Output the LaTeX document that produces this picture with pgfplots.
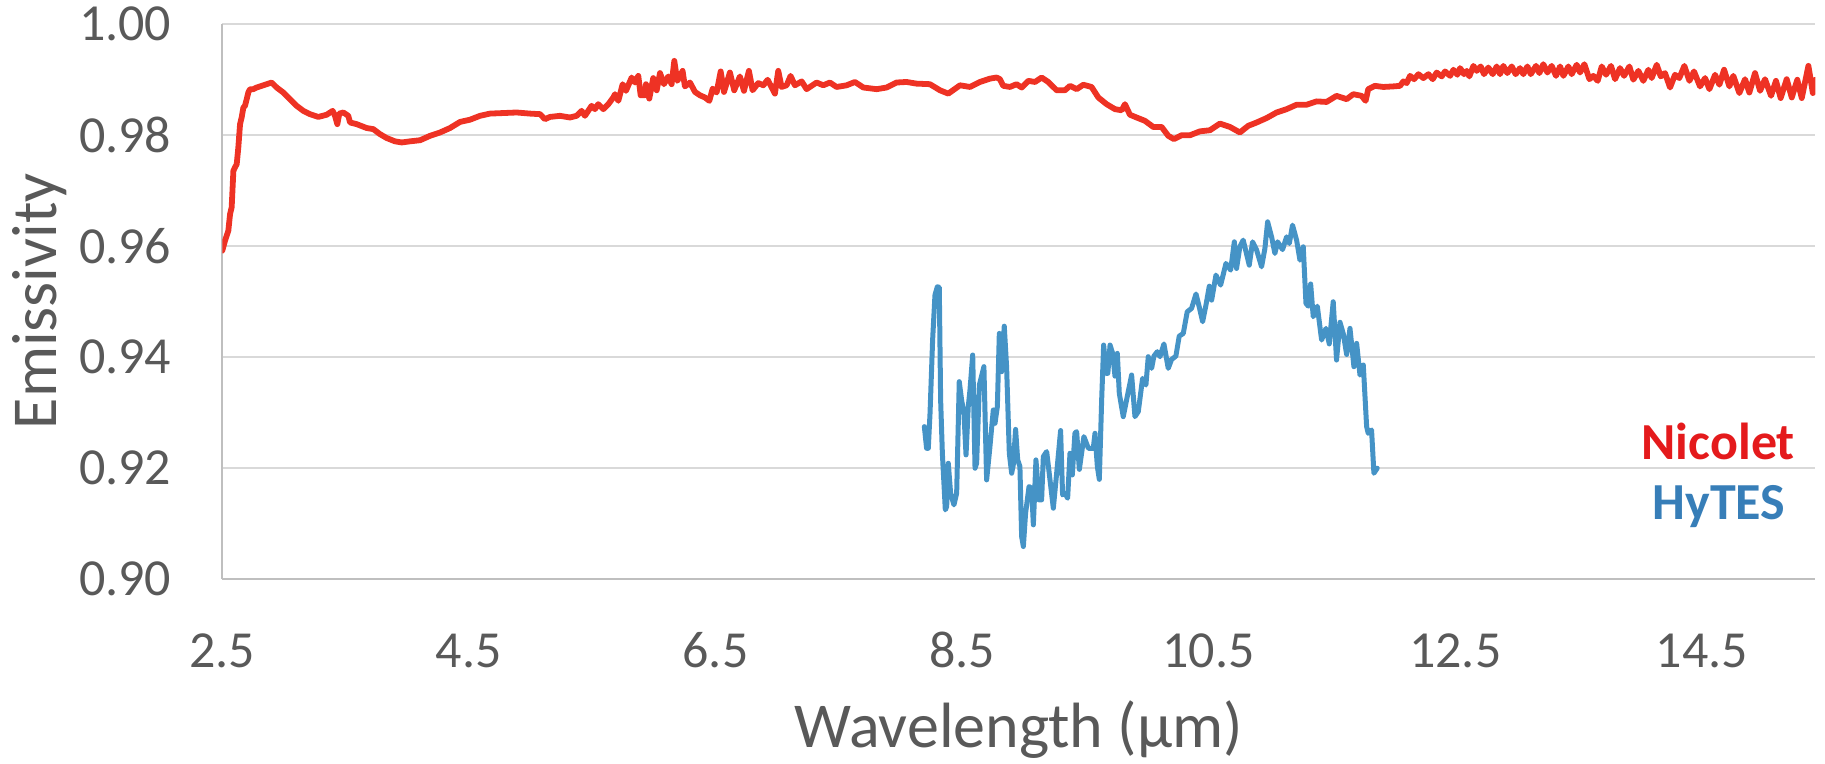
\documentclass[border=0pt]{standalone}
\usepackage{fontspec}
\setmainfont{Carlito}
\usepackage{pgfplots}
\pgfplotsset{compat=1.18}

\definecolor{nicolet}{HTML}{EE3224}
\definecolor{nicolettext}{HTML}{E41A1C}
\definecolor{hytes}{HTML}{4593C6}
\definecolor{hytestext}{HTML}{377EB8}
\definecolor{labelgray}{HTML}{595959}
\definecolor{gridgray}{HTML}{D9D9D9}
\definecolor{axisgray}{HTML}{BFBFBF}

% Nicolet laboratory spectrum: wavelength (um), emissivity
\pgfplotstableread{
lambda eps
2.500 0.9591
2.522 0.9609
2.549 0.9627
2.563 0.9657
2.576 0.9669
2.590 0.9735
2.603 0.9741
2.617 0.9747
2.630 0.9777
2.644 0.9819
2.657 0.9831
2.671 0.9849
2.684 0.9852
2.698 0.9864
2.711 0.9876
2.725 0.9882
2.752 0.9882
2.779 0.9885
2.819 0.9888
2.860 0.9891
2.900 0.9894
2.941 0.9885
2.995 0.9876
3.049 0.9864
3.103 0.9852
3.157 0.9843
3.211 0.9837
3.279 0.9832
3.347 0.9836
3.395 0.9843
3.414 0.9834
3.433 0.9819
3.449 0.9838
3.482 0.9840
3.522 0.9834
3.536 0.9822
3.590 0.9819
3.671 0.9812
3.725 0.9810
3.779 0.9801
3.833 0.9794
3.901 0.9788
3.955 0.9786
4.022 0.9788
4.104 0.9790
4.185 0.9798
4.266 0.9804
4.347 0.9812
4.428 0.9823
4.509 0.9827
4.590 0.9834
4.671 0.9838
4.779 0.9839
4.887 0.9840
4.995 0.9838
5.077 0.9837
5.117 0.9828
5.158 0.9832
5.239 0.9834
5.320 0.9831
5.374 0.9834
5.414 0.9843
5.441 0.9834
5.495 0.9852
5.522 0.9846
5.549 0.9855
5.590 0.9846
5.631 0.9855
5.671 0.9867
5.685 0.9873
5.712 0.9861
5.747 0.9891
5.774 0.9879
5.820 0.9903
5.847 0.9894
5.874 0.9906
5.893 0.9871
5.928 0.9871
5.936 0.9891
5.963 0.9865
5.995 0.9902
6.023 0.9880
6.050 0.9911
6.082 0.9891
6.117 0.9905
6.144 0.9891
6.166 0.9933
6.190 0.9897
6.212 0.9905
6.233 0.9915
6.252 0.9887
6.293 0.9894
6.334 0.9877
6.374 0.9871
6.415 0.9867
6.450 0.9861
6.477 0.9883
6.509 0.9876
6.542 0.9914
6.569 0.9877
6.617 0.9912
6.652 0.9880
6.698 0.9905
6.731 0.9879
6.771 0.9915
6.801 0.9880
6.847 0.9893
6.888 0.9889
6.923 0.9899
6.982 0.9874
7.009 0.9915
7.036 0.9886
7.077 0.9889
7.109 0.9906
7.144 0.9889
7.199 0.9896
7.239 0.9882
7.320 0.9894
7.374 0.9889
7.428 0.9894
7.482 0.9886
7.564 0.9889
7.631 0.9895
7.699 0.9885
7.807 0.9882
7.888 0.9885
7.969 0.9894
8.050 0.9895
8.131 0.9892
8.239 0.9891
8.321 0.9880
8.388 0.9874
8.483 0.9889
8.564 0.9886
8.645 0.9895
8.726 0.9901
8.780 0.9903
8.807 0.9900
8.834 0.9888
8.888 0.9886
8.942 0.9891
8.983 0.9885
9.037 0.9897
9.091 0.9895
9.145 0.9903
9.199 0.9895
9.267 0.9880
9.334 0.9880
9.375 0.9888
9.429 0.9882
9.483 0.9890
9.550 0.9886
9.605 0.9867
9.672 0.9855
9.740 0.9846
9.794 0.9844
9.821 0.9855
9.861 0.9836
9.915 0.9831
9.983 0.9825
10.050 0.9814
10.118 0.9814
10.172 0.9798
10.218 0.9792
10.280 0.9799
10.348 0.9799
10.429 0.9806
10.510 0.9808
10.591 0.9820
10.672 0.9814
10.753 0.9804
10.821 0.9816
10.889 0.9822
10.970 0.9830
11.051 0.9840
11.132 0.9846
11.213 0.9854
11.294 0.9854
11.375 0.9860
11.456 0.9859
11.537 0.9870
11.619 0.9864
11.673 0.9873
11.740 0.9870
11.773 0.9861
11.794 0.9882
11.848 0.9888
11.916 0.9886
11.997 0.9887
12.052 0.9888
12.079 0.9896
12.106 0.9893
12.133 0.9906
12.166 0.9900
12.201 0.9909
12.241 0.9902
12.282 0.9909
12.317 0.9900
12.349 0.9912
12.390 0.9905
12.417 0.9914
12.458 0.9906
12.485 0.9917
12.517 0.9908
12.539 0.9920
12.571 0.9909
12.593 0.9915
12.614 0.9905
12.647 0.9924
12.674 0.9915
12.706 0.9923
12.733 0.9909
12.768 0.9921
12.804 0.9909
12.836 0.9923
12.863 0.9909
12.890 0.9924
12.922 0.9911
12.958 0.9923
12.990 0.9909
13.025 0.9920
13.052 0.9909
13.085 0.9923
13.112 0.9909
13.155 0.9924
13.182 0.9911
13.214 0.9927
13.247 0.9912
13.282 0.9924
13.317 0.9906
13.350 0.9923
13.377 0.9906
13.417 0.9923
13.444 0.9909
13.485 0.9926
13.512 0.9912
13.547 0.9927
13.588 0.9900
13.620 0.9906
13.655 0.9897
13.688 0.9923
13.723 0.9908
13.763 0.9924
13.796 0.9900
13.836 0.9920
13.869 0.9906
13.912 0.9923
13.944 0.9899
13.985 0.9915
14.025 0.9897
14.066 0.9917
14.093 0.9902
14.134 0.9926
14.166 0.9905
14.201 0.9911
14.242 0.9885
14.282 0.9908
14.317 0.9902
14.358 0.9924
14.399 0.9897
14.436 0.9914
14.485 0.9887
14.526 0.9902
14.561 0.9882
14.607 0.9908
14.642 0.9890
14.680 0.9917
14.723 0.9887
14.755 0.9906
14.804 0.9875
14.850 0.9900
14.885 0.9876
14.931 0.9911
14.972 0.9879
15.012 0.9900
15.061 0.9870
15.101 0.9897
15.139 0.9866
15.188 0.9900
15.229 0.9867
15.274 0.9899
15.310 0.9866
15.364 0.9924
15.400 0.9875
15.420 0.9899
}\nicoletdata

% HyTES airborne retrieval: wavelength (um), emissivity
\pgfplotstableread{
lambda eps
8.194 0.9274
8.212 0.9235
8.226 0.9235
8.240 0.9298
8.261 0.9430
8.280 0.9511
8.299 0.9526
8.315 0.9525
8.326 0.9322
8.340 0.9226
8.364 0.9124
8.375 0.9130
8.388 0.9208
8.407 0.9154
8.434 0.9133
8.456 0.9154
8.477 0.9355
8.496 0.9322
8.515 0.9298
8.532 0.9223
8.550 0.9310
8.564 0.9340
8.586 0.9403
8.605 0.9199
8.618 0.9208
8.640 0.9349
8.677 0.9382
8.699 0.9178
8.726 0.9238
8.753 0.9304
8.767 0.9280
8.786 0.9310
8.802 0.9442
8.821 0.9373
8.842 0.9455
8.861 0.9382
8.883 0.9226
8.902 0.9190
8.915 0.9205
8.934 0.9269
8.951 0.9214
8.969 0.9202
8.983 0.9076
8.997 0.9058
9.015 0.9118
9.043 0.9166
9.064 0.9163
9.078 0.9097
9.099 0.9214
9.124 0.9142
9.145 0.9142
9.159 0.9220
9.186 0.9229
9.213 0.9178
9.240 0.9127
9.267 0.9190
9.299 0.9267
9.315 0.9151
9.334 0.9154
9.356 0.9145
9.375 0.9226
9.394 0.9187
9.415 0.9262
9.429 0.9265
9.451 0.9197
9.488 0.9256
9.524 0.9235
9.564 0.9235
9.578 0.9262
9.597 0.9202
9.613 0.9179
9.632 0.9322
9.648 0.9421
9.670 0.9370
9.682 0.9370
9.700 0.9421
9.721 0.9406
9.740 0.9365
9.759 0.9406
9.775 0.9334
9.807 0.9292
9.834 0.9322
9.875 0.9367
9.902 0.9292
9.929 0.9301
9.964 0.9361
9.991 0.9349
10.010 0.9400
10.037 0.9379
10.056 0.9401
10.083 0.9409
10.105 0.9400
10.137 0.9423
10.172 0.9379
10.199 0.9395
10.234 0.9401
10.261 0.9437
10.294 0.9442
10.326 0.9481
10.361 0.9487
10.397 0.9513
10.424 0.9489
10.451 0.9463
10.478 0.9493
10.505 0.9527
10.524 0.9502
10.559 0.9547
10.597 0.9529
10.640 0.9568
10.678 0.9556
10.708 0.9607
10.726 0.9559
10.753 0.9598
10.780 0.9610
10.829 0.9565
10.856 0.9607
10.889 0.9592
10.929 0.9562
10.956 0.9595
10.978 0.9643
11.010 0.9616
11.037 0.9586
11.059 0.9607
11.099 0.9593
11.132 0.9616
11.154 0.9604
11.180 0.9637
11.213 0.9610
11.240 0.9574
11.267 0.9598
11.289 0.9496
11.308 0.9491
11.327 0.9531
11.348 0.9472
11.381 0.9491
11.416 0.9430
11.451 0.9451
11.478 0.9423
11.510 0.9499
11.537 0.9394
11.565 0.9462
11.592 0.9441
11.619 0.9404
11.646 0.9451
11.678 0.9382
11.700 0.9424
11.727 0.9367
11.754 0.9385
11.781 0.9274
11.794 0.9262
11.821 0.9268
11.840 0.9190
11.867 0.9199
}\hytesdata

\begin{document}
\begin{tikzpicture}
% fixed page frame around the plot area
\path[use as bounding box] (-111.15pt,-92.65pt) rectangle (801.35pt,289.35pt);
\begin{axis}[
  at={(0pt,0pt)}, anchor=south west,
  scale only axis, width=796.5pt, height=277.5pt,
  xmin=2.5, xmax=15.42, ymin=0.90, ymax=1.00,
  axis lines*=left,
  axis line style={draw=axisgray, line width=1pt},
  ymajorgrids,
  grid style={draw=gridgray, line width=1pt},
  major tick length=0pt,
  xtick={2.5,4.5,6.5,8.5,10.5,12.5,14.5},
  xticklabels={2.5,4.5,6.5,8.5,10.5,12.5,14.5},
  ytick={0.90,0.92,0.94,0.96,0.98,1.00},
  yticklabels={0.90,0.92,0.94,0.96,0.98,1.00},
  tick label style={font=\fontsize{26}{26}\selectfont, text=labelgray},
  xticklabel style={anchor=base, yshift=-44.3pt},
  yticklabel style={anchor=east, inner sep=0pt, xshift=-25.3pt},
  label style={font=\fontsize{32}{32}\selectfont, text=labelgray},
  xlabel={Wavelength (µm)},
  xlabel style={at={(axis description cs:0.5,-0.3045)}, anchor=base},
  ylabel={Emissivity},
  ylabel style={at={(axis description cs:-0.1038,0.5)}, anchor=base},
]
\addplot[draw=nicolet, line width=2.9pt, line join=round, line cap=round] table[x=lambda, y=eps] {\nicoletdata};
\addplot[draw=hytes, line width=2.5pt, line join=round, line cap=round] table[x=lambda, y=eps] {\hytesdata};
\node[anchor=base, font=\bfseries\fontsize{26}{26}\selectfont, text=nicolettext] at (axis cs:14.633,0.92139) {Nicolet};
\node[anchor=base, font=\bfseries\fontsize{26}{26}\selectfont, text=hytestext] at (axis cs:14.639,0.91058) {HyTES};
\end{axis}
\end{tikzpicture}
\end{document}
